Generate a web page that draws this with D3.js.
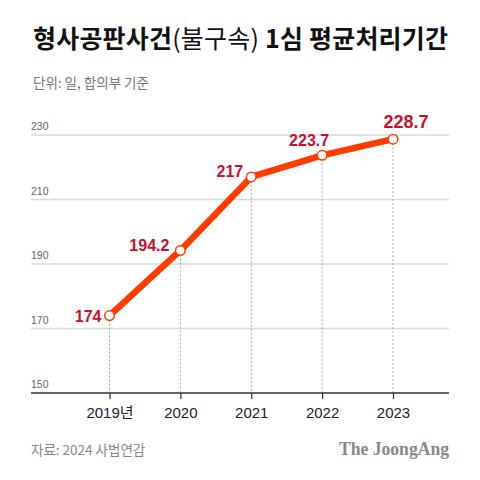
<!DOCTYPE html>
<html><head><meta charset="utf-8">
<script src="https://cdn.jsdelivr.net/npm/d3@7"></script>
<style>
html,body{margin:0;padding:0;background:#fff;}
svg{display:block;}
</style></head>
<body>
<script>
const years = [2019, 2020, 2021, 2022, 2023];
const yearLabels = ["2019년", "2020", "2021", "2022", "2023"];
const values = [174, 194.2, 217, 223.7, 228.7];
const valueLabels = ["174", "194.2", "217", "223.7", "228.7"];
const yTicks = [150, 170, 190, 210, 230];

const W = 480, H = 480;
const svg = d3.select("body").append("svg").attr("width", W).attr("height", H);
const sans = "'Liberation Sans', 'Noto Sans CJK KR', Arial, sans-serif";
const kr = "'Noto Sans CJK KR', 'Noto Sans', sans-serif";

// Title
const title = svg.append("text").attr("x", 33).attr("y", 48)
  .attr("font-family", kr).attr("font-size", 25).attr("font-weight", 700)
  .attr("fill", "#111").attr("letter-spacing", 0.2);
title.append("tspan").text("형사공판사건");
title.append("tspan").attr("font-weight", 400).text("(불구속)");
title.append("tspan").text(" 1심 평균처리기간");

svg.append("text").attr("x", 33).attr("y", 88)
  .attr("font-family", kr).attr("font-size", 13.5).attr("fill", "#777")
  .text("단위: 일, 합의부 기준");

const x = d3.scalePoint().domain(years).range([109.5, 393]);
const y = d3.scaleLinear().domain([150, 230]).range([393, 135]);
const xL = 31, xR = 449;

// gridlines
const gy = svg.append("g");
gy.selectAll("line.grid").data(yTicks.filter(t => t !== 150)).enter().append("line")
  .attr("x1", xL).attr("x2", xR).attr("y1", d => y(d)).attr("y2", d => y(d))
  .attr("stroke", "#d9d9d9").attr("stroke-width", 1.5);
gy.selectAll("text.tick").data(yTicks).enter().append("text")
  .attr("x", xL).attr("y", d => y(d) - 5)
  .attr("font-family", sans).attr("font-size", 10.5).attr("fill", "#666")
  .text(d => d);

// dashed verticals
svg.append("g").selectAll("line").data(years).enter().append("line")
  .attr("x1", d => x(d)).attr("x2", d => x(d))
  .attr("y1", (d, i) => y(values[i])).attr("y2", y(150))
  .attr("stroke", "#aaa").attr("stroke-width", 1).attr("stroke-dasharray", "2,2");

// x axis
const xAxis = d3.axisBottom(x).tickSize(6).tickFormat((d, i) => yearLabels[i]).tickPadding(8);
const gx = svg.append("g").attr("transform", `translate(0,${y(150)})`).call(xAxis);
gx.select(".domain").remove();
gx.selectAll(".tick line").attr("stroke", "#333").attr("stroke-width", 1.2);
gx.selectAll(".tick text").attr("font-family", sans).attr("font-size", 15).attr("fill", "#222")
  .attr("dy", "0.71em");
svg.append("line").attr("x1", xL).attr("x2", xR).attr("y1", y(150)).attr("y2", y(150))
  .attr("stroke", "#333").attr("stroke-width", 1.5);

// line
const line = d3.line().x((d, i) => x(years[i])).y(d => y(d));
svg.append("path").datum(values).attr("d", line)
  .attr("fill", "none").attr("stroke", "#ff3c00").attr("stroke-width", 6.5)
  .attr("stroke-linejoin", "round").attr("stroke-linecap", "round");

svg.append("g").selectAll("circle").data(values).enter().append("circle")
  .attr("cx", (d, i) => x(years[i])).attr("cy", d => y(d)).attr("r", 4.8)
  .attr("fill", "#fff").attr("stroke", "#ff3c00").attr("stroke-width", 1.5);

// value labels
const lblPos = [
  {dx: -8, dy: 6, anchor: "end", size: 16},
  {dx: -11, dy: 1, anchor: "end", size: 16},
  {dx: -8, dy: 0, anchor: "end", size: 16},
  {dx: -13, dy: -9, anchor: "middle", size: 16},
  {dx: 13, dy: -11, anchor: "middle", size: 18}
];
svg.append("g").selectAll("text").data(values).enter().append("text")
  .attr("x", (d, i) => x(years[i]) + lblPos[i].dx)
  .attr("y", (d, i) => y(d) + lblPos[i].dy)
  .attr("text-anchor", (d, i) => lblPos[i].anchor)
  .attr("font-family", sans).attr("font-weight", 700)
  .attr("font-size", (d, i) => lblPos[i].size)
  .attr("fill", "#c8102e")
  .text((d, i) => valueLabels[i]);

// footer
svg.append("text").attr("x", 31).attr("y", 455)
  .attr("font-family", kr).attr("font-size", 13.5).attr("fill", "#888")
  .text("자료: 2024 사법연감");
svg.append("text").attr("x", 449).attr("y", 455).attr("text-anchor", "end")
  .attr("font-family", "'Liberation Serif', 'DejaVu Serif', serif").attr("font-weight", 700)
  .attr("font-size", 18).attr("fill", "#888")
  .attr("textLength", 110).attr("lengthAdjust", "spacingAndGlyphs")
  .text("The JoongAng");
</script>
</body></html>
